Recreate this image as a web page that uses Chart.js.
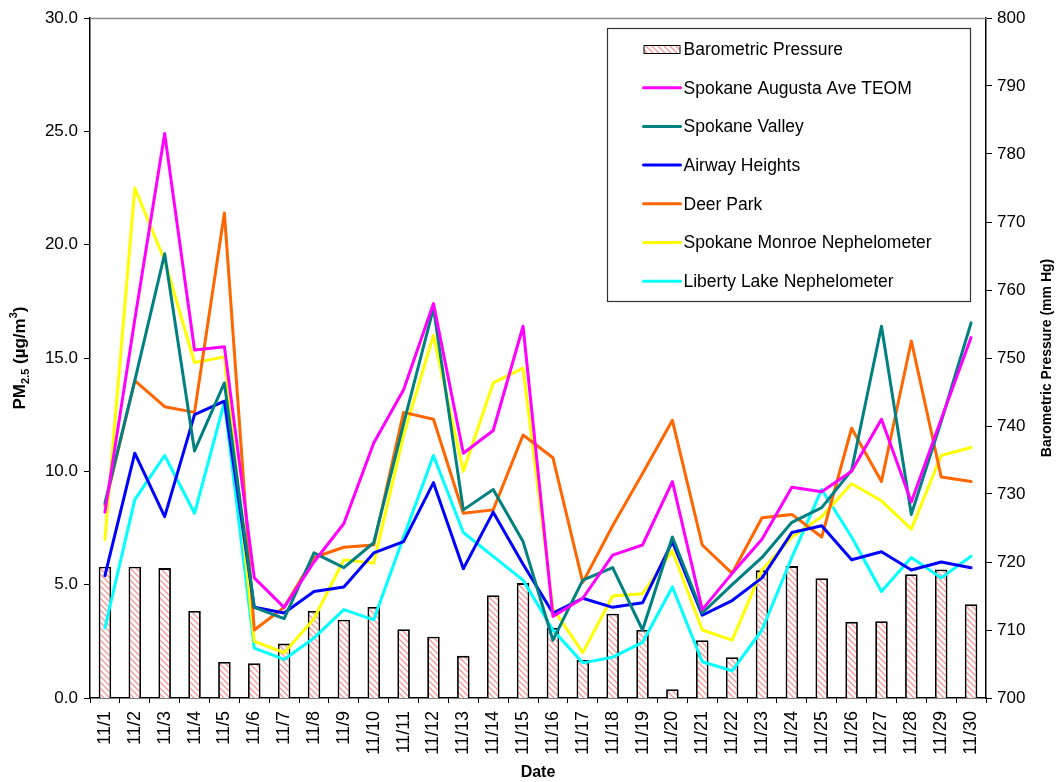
<!DOCTYPE html>
<html lang="en">
<head>
<meta charset="UTF-8">
<title>PM2.5 and Barometric Pressure, November</title>
<script src="https://cdn.jsdelivr.net/npm/chart.js"></script>
<style>
  html, body { margin: 0; padding: 0; background: #fff; }
  #wrap { width: 1059px; height: 782px; }
</style>
</head>
<body>
<div id="wrap"><canvas id="pmChart" width="1059" height="782"></canvas></div>
<script>
// ---- data ----
const dates = ['11/1','11/2','11/3','11/4','11/5','11/6','11/7','11/8','11/9','11/10',
               '11/11','11/12','11/13','11/14','11/15','11/16','11/17','11/18','11/19','11/20',
               '11/21','11/22','11/23','11/24','11/25','11/26','11/27','11/28','11/29','11/30'];

const pressure = [719.3, 719.3, 719.1, 712.8, 705.3, 705.1, 708.0, 712.8, 711.5, 713.4,
                  710.1, 709.0, 706.2, 715.1, 716.9, 710.3, 705.6, 712.4, 710.0, 701.3,
                  708.5, 706.0, 718.8, 719.4, 717.6, 711.2, 711.3, 718.2, 718.9, 713.8];

const augusta = [8.2, 16.7, 24.9, 15.35, 15.5, 5.3, 4.0, 6.0, 7.7, 11.25,
                 13.6, 17.4, 10.8, 11.8, 16.4, 3.6, 4.4, 6.3, 6.75, 9.55,
                 3.9, 5.5, 7.0, 9.3, 9.1, 10.0, 12.3, 8.65, 12.3, 15.9];

const valley = [8.6, 14.0, 19.6, 10.9, 13.9, 4.0, 3.5, 6.4, 5.75, 6.85,
                12.1, 17.2, 8.3, 9.2, 6.9, 2.55, 5.2, 5.75, 3.0, 7.1,
                3.75, 5.0, 6.2, 7.75, 8.4, 10.05, 16.4, 8.1, 12.2, 16.55];

const airway = [5.4, 10.8, 8.0, 12.5, 13.1, 4.0, 3.75, 4.7, 4.9, 6.4,
                6.9, 9.5, 5.7, 8.2, 5.9, 3.75, 4.4, 4.0, 4.2, 6.9,
                3.65, 4.3, 5.3, 7.3, 7.6, 6.1, 6.45, 5.65, 6.0, 5.75];

const deerPark = [8.5, 14.0, 12.85, 12.6, 21.4, 3.0, 4.0, 6.2, 6.65, 6.75,
                  12.6, 12.3, 8.15, 8.3, 11.6, 10.6, 5.1, 7.6, 9.9, 12.25,
                  6.75, 5.5, 7.95, 8.1, 7.1, 11.9, 9.55, 15.75, 9.75, 9.55];

const monroe = [7.0, 22.5, 19.3, 14.8, 15.05, 2.5, 2.0, 3.5, 6.1, 5.95,
                11.6, 16.0, 10.0, 13.9, 14.55, 3.95, 2.0, 4.5, 4.6, 6.5,
                3.0, 2.55, 5.65, 7.1, 8.0, 9.45, 8.7, 7.45, 10.7, 11.05];

const liberty = [3.1, 8.75, 10.7, 8.15, 13.05, 2.2, 1.7, 2.65, 3.9, 3.45,
                 7.1, 10.7, 7.3, 6.25, 5.2, 3.0, 1.55, 1.8, 2.45, 4.9,
                 1.6, 1.2, 3.0, 6.2, 9.2, 7.1, 4.7, 6.2, 5.3, 6.25];

const pmTicks = [0, 5, 10, 15, 20, 25, 30];
const pressureTicks = [700, 710, 720, 730, 740, 750, 760, 770, 780, 790, 800];

const FONT = "'Liberation Sans', Arial, sans-serif";

// hatched fill for the pressure bars
function makeHatch() {
    const c = document.createElement('canvas');
    c.width = 6; c.height = 6;
    const g = c.getContext('2d');
    g.fillStyle = '#ffffff';
    g.fillRect(0, 0, 6, 6);
    g.strokeStyle = '#f39a9a';
    g.lineWidth = 1.4;
    g.beginPath();
    g.moveTo(-1, -1); g.lineTo(7, 7);
    g.moveTo(-4, 2); g.lineTo(4, 10);
    g.moveTo(2, -4); g.lineTo(10, 4);
    g.stroke();
    return g.createPattern(c, 'repeat');
}
const hatch = makeHatch();

function lineSet(label, data, color) {
    return {
        type: 'line',
        label: label,
        data: data,
        yAxisID: 'y',
        borderColor: color,
        backgroundColor: color,
        borderWidth: 3,
        borderJoinStyle: 'round',
        borderCapStyle: 'round',
        pointRadius: 0,
        tension: 0,
        order: 1
    };
}

// axis titles and the framed legend are drawn by hand
const decorations = {
    id: 'decorations',
    afterDatasetsDraw(chart) {
        const ctx = chart.ctx;
        const a = chart.chartArea;
        ctx.save();

        // grey top frame line
        ctx.strokeStyle = '#8c8c8c';
        ctx.lineWidth = 1.5;
        ctx.beginPath();
        ctx.moveTo(a.left, a.top + 0.5);
        ctx.lineTo(a.right, a.top + 0.5);
        ctx.stroke();

        // left title: PM2.5 (µg/m3)
        ctx.fillStyle = '#000';
        ctx.save();
        ctx.translate(19, (a.top + a.bottom) / 2);
        ctx.rotate(-Math.PI / 2);
        const big = 'bold 17px ' + FONT, small = 'bold 11px ' + FONT;
        const parts = [
            { t: 'PM', f: big, dy: 0 },
            { t: '2.5', f: small, dy: 4 },
            { t: ' (\u00b5g/m', f: big, dy: 0 },
            { t: '3', f: small, dy: -8 },
            { t: ')', f: big, dy: 0 }
        ];
        let total = 0;
        parts.forEach(p => { ctx.font = p.f; p.w = ctx.measureText(p.t).width; total += p.w; });
        let x = -total / 2;
        ctx.textBaseline = 'alphabetic';
        ctx.textAlign = 'left';
        parts.forEach(p => { ctx.font = p.f; ctx.fillText(p.t, x, 6 + p.dy); x += p.w; });
        ctx.restore();

        // right title
        ctx.save();
        ctx.translate(1047, (a.top + a.bottom) / 2);
        ctx.rotate(-Math.PI / 2);
        ctx.font = 'bold 14px ' + FONT;
        ctx.textAlign = 'center';
        ctx.textBaseline = 'middle';
        ctx.fillText('Barometric Pressure (mm Hg)', 0, 0);
        ctx.restore();

        // legend box
        const bx = a.left + 517.5, by = a.top + 10.5, bw = 363, bh = 273;
        ctx.fillStyle = '#fff';
        ctx.fillRect(bx, by, bw, bh);
        ctx.strokeStyle = '#333';
        ctx.lineWidth = 1.2;
        ctx.strokeRect(bx, by, bw, bh);
        ctx.font = '17.5px ' + FONT;
        ctx.textAlign = 'left';
        ctx.textBaseline = 'middle';
        chart.data.datasets.forEach((ds, i) => {
            const yy = by + 20.5 + i * 38.7;
            const sx = bx + 36, sw = 37;
            if (ds.type === 'bar') {
                ctx.fillStyle = hatch;
                ctx.fillRect(sx, yy - 4, sw, 8);
                ctx.strokeStyle = '#000';
                ctx.lineWidth = 1;
                ctx.strokeRect(sx + 0.5, yy - 4 + 0.5, sw - 1, 8);
            } else {
                ctx.strokeStyle = ds.borderColor;
                ctx.lineWidth = 3;
                ctx.lineCap = 'round';
                ctx.beginPath();
                ctx.moveTo(sx, yy);
                ctx.lineTo(sx + sw, yy);
                ctx.stroke();
            }
            ctx.fillStyle = '#000';
            ctx.fillText(ds.label, sx + sw + 3, yy + 1);
        });
        ctx.restore();
    }
};

new Chart(document.getElementById('pmChart').getContext('2d'), {
    data: {
        labels: dates,
        datasets: [
            {
                type: 'bar',
                label: 'Barometric Pressure',
                data: pressure,
                yAxisID: 'y1',
                backgroundColor: hatch,
                borderColor: '#000',
                borderWidth: 1.8,
                borderSkipped: 'bottom',
                barPercentage: 0.42,
                categoryPercentage: 1.0,
                order: 2
            },
            lineSet('Spokane Augusta Ave TEOM', augusta, '#ff00ff'),
            lineSet('Spokane Valley', valley, '#008080'),
            lineSet('Airway Heights', airway, '#0000ff'),
            lineSet('Deer Park', deerPark, '#ff6600'),
            lineSet('Spokane Monroe Nephelometer', monroe, '#ffff00'),
            lineSet('Liberty Lake Nephelometer', liberty, '#00ffff')
        ]
    },
    options: {
        responsive: false,
        animation: false,
        layout: { padding: { top: 18, left: 0, right: 0, bottom: 0 } },
        plugins: {
            legend: { display: false },
            tooltip: { enabled: false }
        },
        scales: {
            x: {
                offset: true,
                grid: { display: true, offset: true, drawOnChartArea: false, drawTicks: true,
                        tickLength: 5, color: '#000', lineWidth: 1 },
                border: { display: true, color: '#000', width: 1.5 },
                ticks: { autoSkip: false, maxRotation: 90, minRotation: 90, padding: 8,
                         color: '#000', font: { family: FONT, size: 18 } },
                title: { display: true, text: 'Date', color: '#000', padding: { top: 0, bottom: 0 },
                         font: { family: FONT, size: 16, weight: 'bold' } },
                afterFit(scale) { scale.height = 84; }
            },
            y: {
                position: 'left',
                min: 0, max: 30,
                afterBuildTicks(scale) { scale.ticks = pmTicks.map(v => ({ value: v })); },
                grid: { display: true, drawOnChartArea: false, drawTicks: true, tickLength: 6,
                        color: '#000', lineWidth: 1 },
                border: { display: true, color: '#000', width: 1.5 },
                ticks: { padding: 6, color: '#000', font: { family: FONT, size: 17 },
                         callback: v => Number(v).toFixed(1) },
                afterFit(scale) { scale.width = 90; }
            },
            y1: {
                position: 'right',
                min: 700, max: 800,
                afterBuildTicks(scale) { scale.ticks = pressureTicks.map(v => ({ value: v })); },
                grid: { display: true, drawOnChartArea: false, drawTicks: true, tickLength: 6,
                        color: '#000', lineWidth: 1 },
                border: { display: true, color: '#000', width: 1.5 },
                ticks: { padding: 5, color: '#000', font: { family: FONT, size: 17 } },
                afterFit(scale) { scale.width = 73; }
            }
        }
    },
    plugins: [decorations]
});
</script>
</body>
</html>
